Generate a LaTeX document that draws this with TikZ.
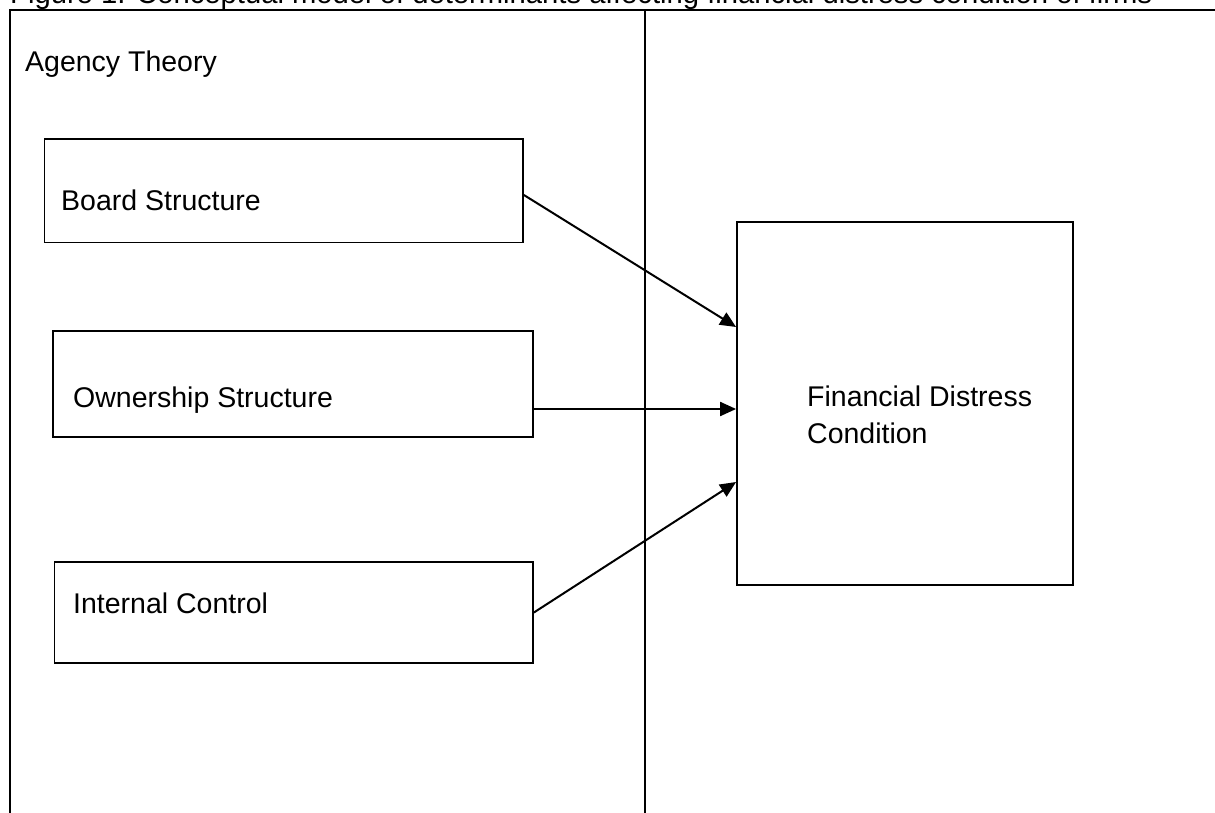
\documentclass[tikz,border=0pt]{standalone}
\usepackage{fontspec}
\setmainfont{Liberation Sans}
\usetikzlibrary{arrows.meta}
\begin{document}
\begin{tikzpicture}[x=1pt,y=-1pt,
  lbl/.style={anchor=base west,inner sep=0pt,font=\fontsize{28.5}{36.7}\selectfont},
  varbox/.style={draw,line width=1.8pt,inner sep=0pt},
  frameline/.style={line width=2.2pt},
  arr/.style={line width=2pt,-{Triangle[length=16pt,width=14pt]}}]
\useasboundingbox (0,0) rectangle (1215,813);
% title (cut by the page top)
\node[anchor=base west,inner sep=0pt] (title) at (10,4)
  {\resizebox{1142pt}{!}{\fontsize{28.5}{34}\selectfont Figure 1: Conceptual model of determinants affecting financial distress condition of firms}};
% frame
\coordinate (tl) at (10,10);
\coordinate (tr) at (1215,10);
\coordinate (bl) at (10,815);
\coordinate (dt) at (645,10);
\coordinate (db) at (645,815);
\draw[frameline] (bl) -- (tl) -- (tr);
\draw[frameline] (dt) -- (db);
\node[lbl] (agency) at (25,72) {Agency Theory};
% boxes
\node[varbox,minimum width=478.5pt,minimum height=103.5pt] (board) at (283.75,190.75) {};
\node[varbox,minimum width=480pt,minimum height=106.6pt] (own) at (292.7,384) {};
\node[varbox,minimum width=478.5pt,minimum height=101pt] (ic) at (293.75,612.5) {};
\node[varbox,minimum width=336pt,minimum height=363pt] (fd) at (905,403.5) {};
% texts
\node[lbl] (boardtxt) at (61,211) {Board Structure};
\node[lbl] (owntxt) at (73,407) {Ownership Structure};
\node[lbl] (ictxt) at (73,613) {Internal Control};
\node[lbl,align=left] (fdtxt) at (807,443) {Financial Distress\\Condition};
% arrows
\draw[arr] ([yshift=-4.25pt]board.east) -- ([yshift=76.5pt]fd.west);
\draw[arr] ([yshift=-25pt]own.east) -- ([yshift=-5.5pt]fd.west);
\draw[arr] (ic.east) -- ([yshift=-78.5pt]fd.west);
\end{tikzpicture}
\end{document}
